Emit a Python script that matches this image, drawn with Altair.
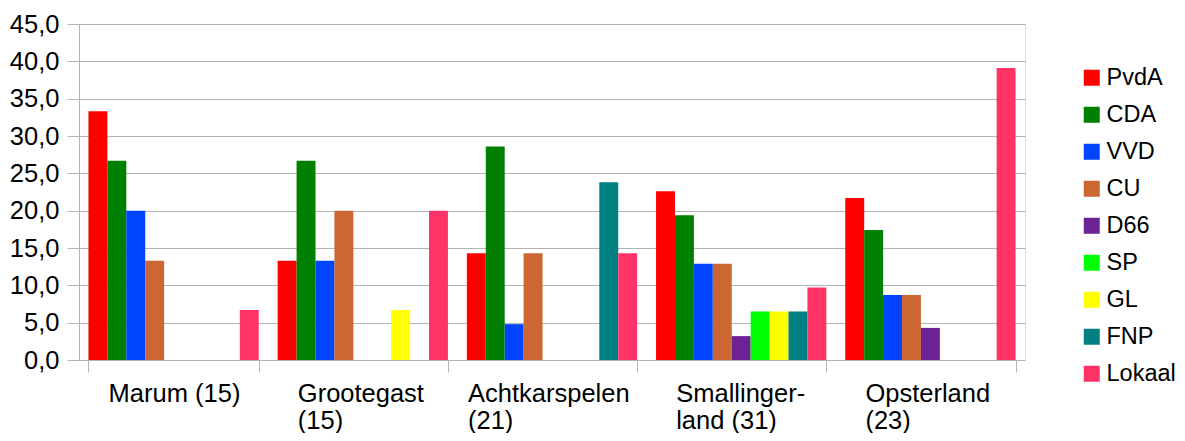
import altair as alt
import pandas as pd

parties = ["PvdA", "CDA", "VVD", "CU", "D66", "SP", "GL", "FNP", "Lokaal"]
colors = ["#ff0000", "#008000", "#0044ff", "#cc6633", "#6b2393", "#00ff00", "#ffff00", "#008080", "#ff3366"]

municipalities = ["Marum (15)", "Grootegast (15)", "Achtkarspelen (21)", "Smallingerland (31)", "Opsterland (23)"]
axis_labels = ["Marum (15)", "Grootegast\n(15)", "Achtkarspelen\n(21)", "Smallinger-\nland (31)", "Opsterland\n(23)"]

marum = [33.3, 26.7, 20.0, 13.3, 0, 0, 0, 0, 6.7]
grootegast = [13.3, 26.7, 13.3, 20.0, 0, 0, 6.7, 0, 20.0]
achtkarspelen = [14.3, 28.6, 4.8, 14.3, 0, 0, 0, 23.8, 14.3]
smallingerland = [22.6, 19.4, 12.9, 12.9, 3.2, 6.5, 6.5, 6.5, 9.7]
opsterland = [21.7, 17.4, 8.7, 8.7, 4.3, 0, 0, 0, 39.1]

y_ticks = [0, 5, 10, 15, 20, 25, 30, 35, 40, 45]

series = [marum, grootegast, achtkarspelen, smallingerland, opsterland]

rows = []
for m, vals in zip(municipalities, series):
    for p, v in zip(parties, vals):
        if v > 0:
            rows.append({"gemeente": m, "partij": p, "pct": v})
df = pd.DataFrame(rows)
labels_df = pd.DataFrame({"gemeente": municipalities, "label": axis_labels})

FONT = "Liberation Sans"
FS = 25.5
GRID = "#b3b3b3"
W, H = 946, 336

xscale = alt.Scale(domain=municipalities, paddingInner=0.1, paddingOuter=0.05)

bars = alt.Chart(df).mark_bar().encode(
    x=alt.X(
        "gemeente:N",
        sort=municipalities,
        scale=xscale,
        axis=alt.Axis(
            title=None,
            labels=False,
            tickBand="extent",
            tickSize=12,
            tickColor=GRID,
            domainColor=GRID,
            grid=False,
        ),
    ),
    xOffset=alt.XOffset(
        "partij:N",
        sort=parties,
        scale=alt.Scale(domain=parties, paddingInner=0, paddingOuter=0),
    ),
    y=alt.Y(
        "pct:Q",
        scale=alt.Scale(domain=[0, 45], nice=False),
        axis=alt.Axis(
            title=None,
            values=y_ticks,
            labelExpr="format(datum.value, 'd') + ',0'",
            labelFont=FONT,
            labelFontSize=FS,
            labelColor="#000000",
            labelPadding=8,
            tickSize=12,
            tickColor=GRID,
            domainColor=GRID,
            gridColor=GRID,
        ),
    ),
    color=alt.Color(
        "partij:N",
        sort=parties,
        scale=alt.Scale(domain=parties, range=colors),
        legend=alt.Legend(
            title=None,
            orient="none",
            legendX=1001,
            legendY=42,
            symbolType="square",
            symbolSize=256,
            symbolStrokeWidth=0,
            labelFont=FONT,
            labelFontSize=23.5,
            labelColor="#000000",
            labelOffset=3,
            rowPadding=12,
            padding=0,
            labelLimit=0,
        ),
    ),
)

text_base = alt.Chart(labels_df).encode(
    x=alt.X("gemeente:N", sort=municipalities, scale=xscale),
    y=alt.value(H + 42),
    text="label:N",
)
text_main = text_base.transform_filter(
    "datum.gemeente != 'Achtkarspelen (21)'"
).mark_text(
    align="left", baseline="alphabetic", dx=-65, lineBreak="\n",
    lineHeight=27, font=FONT, fontSize=FS, color="#000000",
)
text_ak = text_base.transform_filter(
    "datum.gemeente == 'Achtkarspelen (21)'"
).mark_text(
    align="left", baseline="alphabetic", dx=-84, lineBreak="\n",
    lineHeight=27, font=FONT, fontSize=FS, color="#000000",
)

chart = alt.layer(bars, text_main, text_ak).properties(
    width=W,
    height=H,
    autosize=alt.AutoSizeParams(type="none"),
    padding={"left": 71, "top": 16, "right": 152, "bottom": 73},
).configure_view(
    stroke=GRID,
    strokeWidth=1,
).configure(background="white")

chart.save("out.html", embed_options={"renderer": "svg", "actions": False})
